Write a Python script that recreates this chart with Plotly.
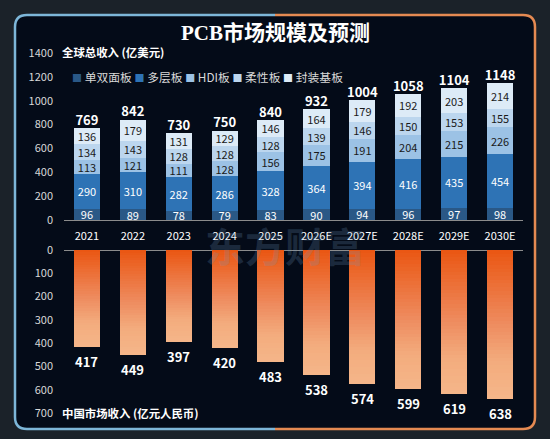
import plotly.graph_objects as go

years = ["2021", "2022", "2023", "2024", "2025", "2026E", "2027E", "2028E", "2029E", "2030E"]
single_double = [96, 89, 78, 79, 83, 90, 94, 96, 97, 98]
multilayer = [290, 310, 282, 286, 328, 364, 394, 416, 435, 454]
hdi = [113, 121, 111, 128, 156, 175, 191, 204, 215, 226]
flexible = [134, 143, 128, 128, 128, 139, 146, 150, 153, 155]
substrate = [136, 179, 131, 129, 146, 164, 179, 192, 203, 214]
global_total = [769, 842, 730, 750, 840, 932, 1004, 1058, 1104, 1148]
china_revenue = [417, 449, 397, 420, 483, 538, 574, 599, 619, 638]

W, H = 550, 439
CJK = "Noto Sans CJK SC, Open Sans, sans-serif"


def px(x):
    return x / W


def py(y):
    return 1 - y / H


fig = go.Figure()

series = [
    ("单双面板", single_double, "#2a5886", "white"),
    ("多层板", multilayer, "#2e73b5", "white"),
    ("HDI板", hdi, "#9cc2e5", "#1a1a1a"),
    ("柔性板", flexible, "#bcd6ee", "#1a1a1a"),
    ("封装基板", substrate, "#ddebf7", "#1a1a1a"),
]
for name, vals, col, tcol in series:
    fig.add_trace(go.Bar(
        x=years, y=vals, name=name, xaxis="x", yaxis="y",
        marker=dict(color=col, line=dict(width=0)),
        text=vals, textposition="inside", insidetextanchor="middle",
        textangle=0, constraintext="none",
        textfont=dict(family=CJK, size=11, color=tcol),
        hoverinfo="skip", showlegend=False,
    ))

fig.add_trace(go.Scatter(
    x=years, y=global_total, mode="text", text=global_total,
    textposition="top center", xaxis="x", yaxis="y", showlegend=False,
    textfont=dict(family=CJK, size=13, color="white", weight="bold"),
    hoverinfo="skip",
))

# gradient bars for China revenue: each bar split into equal fractions
N = 40
stops = [(0.0, (234, 86, 18)), (0.5, (238, 140, 96)), (0.75, (243, 172, 125)), (1.0, (245, 182, 138))]


def grad(t):
    for (t0, c0), (t1, c1) in zip(stops[:-1], stops[1:]):
        if t <= t1:
            f = (t - t0) / (t1 - t0) if t1 > t0 else 0
            return "rgb(%d,%d,%d)" % tuple(round(a + (b - a) * f) for a, b in zip(c0, c1))
    return "rgb(%d,%d,%d)" % stops[-1][1]


for k in range(N):
    fig.add_trace(go.Bar(
        x=years, y=[v / N for v in china_revenue], xaxis="x2", yaxis="y2",
        marker=dict(color=grad((k + 0.5) / N), line=dict(width=0)),
        showlegend=False, hoverinfo="skip",
    ))

for i, v in enumerate(china_revenue):
    fig.add_annotation(
        x=i, y=v, xref="x2", yref="y2", showarrow=False,
        xanchor="center", yanchor="top", yshift=-3, text=f"<b>{v}</b>",
        font=dict(family=CJK, size=13, color="white"),
    )

xdom = [px(64), px(523)]
axis_font = dict(family=CJK, size=11, color="#d9d9d9")

fig.update_layout(
    width=W, height=H,
    margin=dict(l=0, r=0, t=0, b=0, autoexpand=False),
    paper_bgcolor="#1b2229",
    plot_bgcolor="rgba(0,0,0,0)",
    barmode="stack",
    bargap=0.43,
    uniformtext=dict(mode="show", minsize=11),
    showlegend=False,
    xaxis=dict(
        type="category", domain=xdom, anchor="y", range=[-0.5, 9.5],
        showline=True, linecolor="#8c8c8c", linewidth=1,
        showgrid=False, ticks="", tickfont=dict(family=CJK, size=11, color="white"),
        ticklabelstandoff=6, fixedrange=True, automargin=False,
    ),
    yaxis=dict(
        domain=[py(220), py(53)], anchor="x", range=[0, 1400],
        tickvals=[0, 200, 400, 600, 800, 1000, 1200, 1400],
        showgrid=False, zeroline=False, showline=False, ticks="",
        tickfont=axis_font, ticklabelstandoff=10, automargin=False,
    ),
    xaxis2=dict(
        type="category", domain=xdom, anchor="y2", range=[-0.5, 9.5],
        showticklabels=False, showline=False, showgrid=False, ticks="",
        automargin=False,
    ),
    yaxis2=dict(
        domain=[py(413), py(250)], anchor="x2", range=[700, 0],
        tickvals=[0, 100, 200, 300, 400, 500, 600, 700],
        showgrid=False, zeroline=True, zerolinecolor="#8c8c8c", zerolinewidth=1,
        showline=False, ticks="", tickfont=axis_font, ticklabelstandoff=10,
        automargin=False,
    ),
)

# panel background with rounded corners
x0, x1, y0, y1, r = 15, 535, 15, 429, 12


def rr_path(xa, xb, ya, yb, rad):
    rx, ry = rad / W, rad / H
    X0, X1, Y0, Y1 = px(xa), px(xb), py(yb), py(ya)
    return (f"M{X0+rx},{Y1} L{X1-rx},{Y1} Q{X1},{Y1} {X1},{Y1-ry} "
            f"L{X1},{Y0+ry} Q{X1},{Y0} {X1-rx},{Y0} L{X0+rx},{Y0} "
            f"Q{X0},{Y0} {X0},{Y0+ry} L{X0},{Y1-ry} Q{X0},{Y1} {X0+rx},{Y1} Z")


rx, ry = r / W, r / H
left_border = (f"M{px(275)},{py(y0)} L{px(x0)+rx},{py(y0)} Q{px(x0)},{py(y0)} {px(x0)},{py(y0)-ry} "
               f"L{px(x0)},{py(y1)+ry} Q{px(x0)},{py(y1)} {px(x0)+rx},{py(y1)} L{px(275)},{py(y1)}")
right_border = (f"M{px(275)},{py(y0)} L{px(x1)-rx},{py(y0)} Q{px(x1)},{py(y0)} {px(x1)},{py(y0)-ry} "
                f"L{px(x1)},{py(y1)+ry} Q{px(x1)},{py(y1)} {px(x1)-rx},{py(y1)} L{px(275)},{py(y1)}")

fig.add_shape(type="path", path=rr_path(x0, x1, y0, y1, r), xref="paper", yref="paper",
              fillcolor="#040b18", line=dict(width=0), layer="below")
fig.add_shape(type="path", path=left_border, xref="paper", yref="paper",
              line=dict(color="#7db6d8", width=2.5), layer="below")
fig.add_shape(type="path", path=right_border, xref="paper", yref="paper",
              line=dict(color="#e58a52", width=2.5), layer="below")

# legend drawn as one text line with coloured squares
legend_text = " ".join(
    f"<span style='color:{col};font-size:10px'>■</span> {name}" for name, _, col, _ in series
)
fig.add_annotation(
    x=px(70), y=py(77), xref="paper", yref="paper", showarrow=False,
    xanchor="left", yanchor="middle", text=legend_text,
    font=dict(family=CJK, size=11.8, color="#d9d9d9"),
)

fig.add_annotation(
    x=0.5, y=py(33), xref="paper", yref="paper", showarrow=False,
    xanchor="center", yanchor="middle",
    text="<b>PCB市场规模及预测</b>",
    font=dict(family="Liberation Serif, Noto Sans CJK SC, serif", size=21, color="white"),
)
fig.add_annotation(
    x=px(60), y=py(52), xref="paper", yref="paper", showarrow=False,
    xanchor="left", yanchor="middle", text="<b>全球总收入 (亿美元)</b>",
    font=dict(family=CJK, size=11.4, color="white"),
)
fig.add_annotation(
    x=px(60), y=py(413), xref="paper", yref="paper", showarrow=False,
    xanchor="left", yanchor="middle", text="<b>中国市场收入 (亿元人民币)</b>",
    font=dict(family=CJK, size=11.4, color="white"),
)
fig.add_annotation(
    x=px(285), y=py(245), xref="paper", yref="paper", showarrow=False,
    xanchor="center", yanchor="middle",
    text="<b>东方财富</b>",
    font=dict(family=CJK, size=40, color="rgba(110,150,190,0.22)"),
)

fig.write_html(
    "out.html",
    config={"displayModeBar": False},
    post_script="document.body.style.margin='0';document.body.style.overflow='hidden';",
)
